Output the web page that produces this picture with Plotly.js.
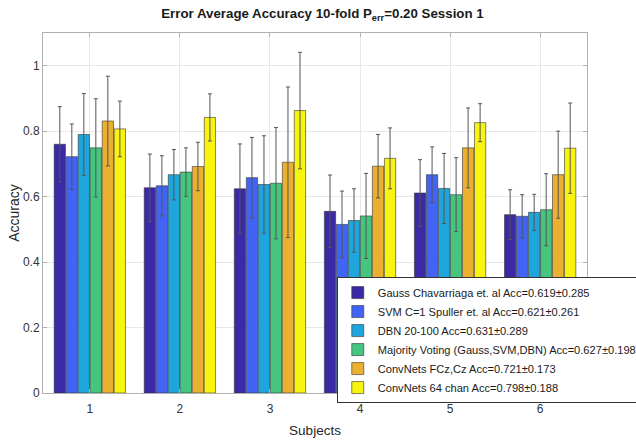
<!DOCTYPE html>
<html>
<head>
<meta charset="utf-8">
<script src="https://cdn.plot.ly/plotly-3.0.1.min.js"></script>
<style>html,body{margin:0;padding:0;background:#fff;}#chart{width:636px;height:441px;}</style>
</head>
<body>
<div id="chart"></div>
<script>
const subjects = [1, 2, 3, 4, 5, 6];
const seriesNames = [
  "Gauss Chavarriaga et. al Acc=0.619±0.285",
  "SVM C=1 Spuller et. al Acc=0.621±0.261",
  "DBN 20-100 Acc=0.631±0.289",
  "Majority Voting (Gauss,SVM,DBN) Acc=0.627±0.198",
  "ConvNets FCz,Cz Acc=0.721±0.173",
  "ConvNets 64 chan Acc=0.798±0.188"
];
const gaussAcc = [0.760, 0.627, 0.624, 0.555, 0.611, 0.545];
const gaussErr = [0.115, 0.103, 0.137, 0.111, 0.102, 0.076];
const svmAcc   = [0.722, 0.633, 0.658, 0.515, 0.667, 0.540];
const svmErr   = [0.100, 0.092, 0.123, 0.102, 0.085, 0.066];
const dbnAcc   = [0.790, 0.667, 0.637, 0.527, 0.625, 0.552];
const dbnErr   = [0.125, 0.077, 0.149, 0.097, 0.107, 0.055];
const mvAcc    = [0.749, 0.675, 0.641, 0.541, 0.606, 0.560];
const mvErr    = [0.150, 0.074, 0.170, 0.130, 0.113, 0.110];
const fczAcc   = [0.831, 0.692, 0.705, 0.693, 0.749, 0.667];
const fczErr   = [0.137, 0.074, 0.230, 0.097, 0.122, 0.133];
const chanAcc  = [0.807, 0.842, 0.863, 0.717, 0.826, 0.748];
const chanErr  = [0.085, 0.072, 0.178, 0.093, 0.058, 0.138];
const yTicks = [0, 0.2, 0.4, 0.6, 0.8, 1];
const yTickLabels = ["0", "0.2", "0.4", "0.6", "0.8", "1"];

const values = [gaussAcc, svmAcc, dbnAcc, mvAcc, fczAcc, chanAcc];
const errors = [gaussErr, svmErr, dbnErr, mvErr, fczErr, chanErr];
const colors = ["#3a2aa6", "#4264f5", "#1ea6dc", "#45c57e", "#ecb031", "#f8f30f"];

const traces = values.map((v, i) => ({
  type: 'bar',
  x: subjects,
  y: v,
  name: seriesNames[i],
  marker: {color: colors[i], line: {color: '#333', width: 0.6}},
  error_y: {type: 'data', array: errors[i], visible: true, color: '#555', thickness: 1, width: 2}
}));

const font = "Liberation Sans, Arial, sans-serif";
const layout = {
  width: 636, height: 441,
  margin: {l: 43, r: 49, t: 33, b: 48, autoexpand: false},
  paper_bgcolor: '#fff', plot_bgcolor: '#fff',
  font: {family: font, size: 12, color: '#262626'},
  barmode: 'group', bargap: 0.2, bargroupgap: 0.06,
  title: {text: "<b>Error Average Accuracy 10-fold P<sub>err</sub>=0.20 Session 1</b>",
          font: {family: font, size: 13.3, color: '#1a1a1a'}, x: 0.507, xanchor: 'center', y: 0.97, yanchor: 'middle'},
  xaxis: {range: [0.48, 6.52], tickmode: 'array', tickvals: subjects, ticktext: subjects.map(String),
          showgrid: true, gridcolor: '#e8e8e8', zeroline: false,
          showline: true, linecolor: '#b0b0b0', linewidth: 1, mirror: 'ticks',
          ticks: 'inside', ticklen: 4, tickcolor: '#b0b0b0', ticklabelstandoff: 5,
          tickfont: {size: 12, color: '#333'},
          title: {text: "Subjects", font: {size: 13.5, color: '#262626'}, standoff: 10}},
  yaxis: {range: [0, 1.1], tickmode: 'array', tickvals: yTicks, ticktext: yTickLabels,
          showgrid: true, gridcolor: '#e8e8e8', zeroline: false,
          showline: true, linecolor: '#b0b0b0', linewidth: 1, mirror: 'ticks',
          ticks: 'inside', ticklen: 4, tickcolor: '#b0b0b0',
          tickfont: {size: 12, color: '#333'},
          title: {text: "Accuracy", font: {size: 14, color: '#262626'}, standoff: 0}},
  showlegend: true,
  legend: {x: 0.54, y: 0.322, xanchor: 'left', yanchor: 'top',
           bgcolor: '#fff', bordercolor: '#333', borderwidth: 1,
           font: {family: font, size: 11.1, color: '#1a1a1a'},
           tracegroupgap: 0, itemwidth: 30},
};

Plotly.newPlot('chart', traces, layout, {displayModeBar: false, staticPlot: true});
</script>
</body>
</html>
